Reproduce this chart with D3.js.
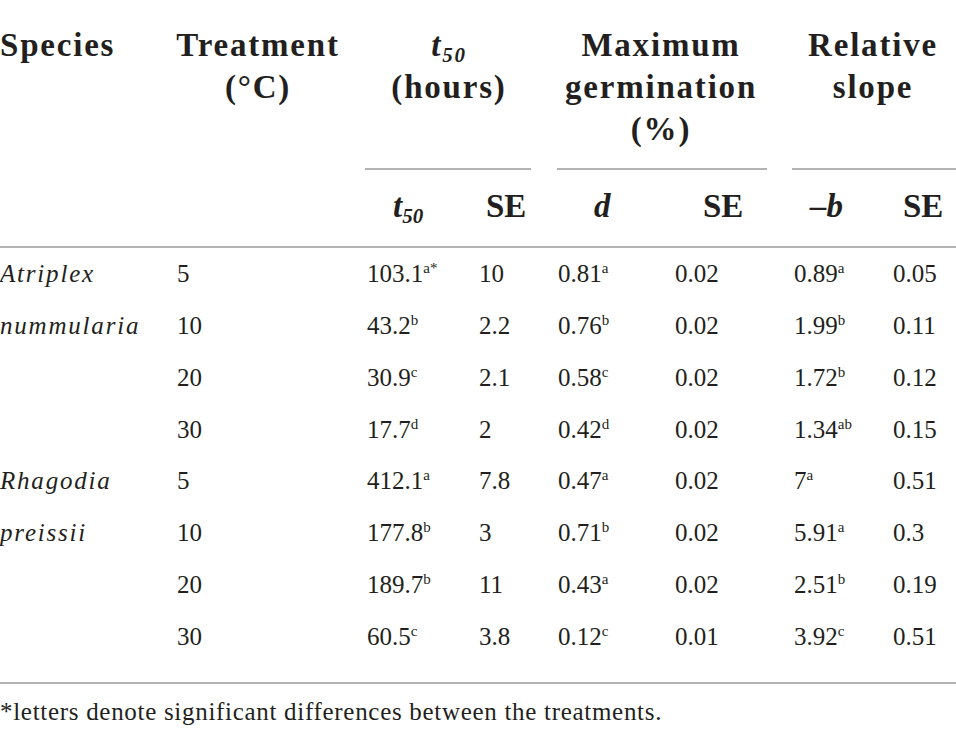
<!DOCTYPE html>
<html>
<head>
<meta charset="utf-8">
<script src="https://cdn.jsdelivr.net/npm/d3@7"></script>
<style>
  html, body { margin: 0; padding: 0; background: #fff; }
  svg { display: block; }
  text { font-family: "Liberation Serif", "Times New Roman", serif; fill: #231f20; }
  .hd { font-weight: bold; font-size: 33px; letter-spacing: 1.8px; }
  .sub { font-weight: bold; font-size: 33px; }
  .cell { font-size: 25px; }
  .sp { letter-spacing: 1.8px; }
  .sup { font-size: 15px; }
  .foot { font-size: 25px; letter-spacing: 0.7px; }
</style>
</head>
<body>
<svg id="chart" width="956" height="742"></svg>
<script>
// ---- data ----
const speciesNames = [["Atriplex", "nummularia"], ["Rhagodia", "preissii"]];
const treatments = [5, 10, 20, 30];
const t50 = [103.1, 43.2, 30.9, 17.7, 412.1, 177.8, 189.7, 60.5];
const t50Letters = ["a*", "b", "c", "d", "a", "b", "b", "c"];
const t50SE = [10, 2.2, 2.1, 2, 7.8, 3, 11, 3.8];
const dMax = [0.81, 0.76, 0.58, 0.42, 0.47, 0.71, 0.43, 0.12];
const dLetters = ["a", "b", "c", "d", "a", "b", "a", "c"];
const dSE = [0.02, 0.02, 0.02, 0.02, 0.02, 0.02, 0.02, 0.01];
const slopeB = [0.89, 1.99, 1.72, 1.34, 7, 5.91, 2.51, 3.92];
const bLetters = ["a", "b", "b", "ab", "a", "a", "b", "c"];
const bSE = [0.05, 0.11, 0.12, 0.15, 0.51, 0.3, 0.19, 0.51];
const footnote = "*letters denote significant differences between the treatments.";

// ---- layout ----
const W = 956;
const svg = d3.select("#chart");
const nRows = t50.length;
const y = d3.scalePoint().domain(d3.range(nRows)).range([282, 645]);
const colKeys = ["species", "treat", "t50", "t50SE", "d", "dSE", "b", "bSE"];
const x = d3.scaleOrdinal().domain(colKeys).range([0, 177, 367, 479, 558, 675, 794, 893]);
const lineColor = "#9a9a9a";

// ---- header ----
const hdr = svg.append("g");
function hline(txt, cx, by, anchor) {
  return hdr.append("text").attr("class", "hd").attr("x", cx).attr("y", by)
    .attr("text-anchor", anchor || "middle").text(txt);
}
hline("Species", 0, 56, "start");
hline("Treatment", 258, 56);
hline("(\u00B0C)", 258, 98);
const tt = hdr.append("text").attr("class", "hd").attr("x", 449).attr("y", 56)
  .attr("text-anchor", "middle").style("font-style", "italic");
tt.append("tspan").text("t");
tt.append("tspan").attr("dy", 6).style("font-size", "21px").text("50");
hline("(hours)", 449, 98);
hline("Maximum", 661, 56);
hline("germination", 661, 98);
hline("(%)", 661, 140);
hline("Relative", 873, 56);
hline("slope", 873, 98);

const groups = [[365, 531], [557, 767], [792, 956]];
hdr.selectAll("line.grp").data(groups).join("line").attr("class", "grp")
  .attr("x1", d => d[0]).attr("x2", d => d[1]).attr("y1", 169).attr("y2", 169)
  .attr("stroke", lineColor).attr("stroke-width", 1.5);

const subY = 217;
const st = hdr.append("text").attr("class", "sub").attr("x", 393).attr("y", subY)
  .style("font-style", "italic");
st.append("tspan").text("t");
st.append("tspan").attr("dy", 6).style("font-size", "21px").text("50");
hdr.append("text").attr("class", "sub").attr("x", 486).attr("y", subY).text("SE");
hdr.append("text").attr("class", "sub").attr("x", 594).attr("y", subY).style("font-style", "italic").text("d");
hdr.append("text").attr("class", "sub").attr("x", 703).attr("y", subY).text("SE");
hdr.append("text").attr("class", "sub").attr("x", 810).attr("y", subY).style("font-style", "italic").text("\u2013b");
hdr.append("text").attr("class", "sub").attr("x", 903).attr("y", subY).text("SE");

svg.append("line").attr("x1", 0).attr("x2", W).attr("y1", 247).attr("y2", 247)
  .attr("stroke", lineColor).attr("stroke-width", 1.5);
svg.append("line").attr("x1", 0).attr("x2", W).attr("y1", 683).attr("y2", 683)
  .attr("stroke", lineColor).attr("stroke-width", 1.5);

// ---- body ----
const rows = d3.range(nRows).map(i => ({
  i,
  species: speciesNames[Math.floor(i / treatments.length)][i % treatments.length] || "",
  treat: treatments[i % treatments.length],
  t50: t50[i], t50L: t50Letters[i], t50SE: t50SE[i],
  d: dMax[i], dL: dLetters[i], dSE: dSE[i],
  b: slopeB[i], bL: bLetters[i], bSE: bSE[i]
}));

const body = svg.append("g");
const rowG = body.selectAll("g.row").data(rows).join("g").attr("class", "row")
  .attr("transform", d => `translate(0,${y(d.i)})`);

rowG.append("text").attr("class", "cell sp").attr("x", x("species"))
  .style("font-style", "italic").text(d => d.species);
rowG.append("text").attr("class", "cell").attr("x", x("treat")).text(d => d.treat);

function valWithSup(sel, key, valKey, supKey) {
  const t = sel.append("text").attr("class", "cell").attr("x", x(key));
  t.append("tspan").text(d => String(d[valKey]));
  t.append("tspan").attr("class", "sup").attr("dy", -9).text(d => d[supKey]);
}
valWithSup(rowG, "t50", "t50", "t50L");
rowG.append("text").attr("class", "cell").attr("x", x("t50SE")).text(d => String(d.t50SE));
valWithSup(rowG, "d", "d", "dL");
rowG.append("text").attr("class", "cell").attr("x", x("dSE")).text(d => String(d.dSE));
valWithSup(rowG, "b", "b", "bL");
rowG.append("text").attr("class", "cell").attr("x", x("bSE")).text(d => String(d.bSE));

// ---- footnote ----
svg.append("text").attr("class", "foot").attr("x", 0).attr("y", 720).text(footnote);
</script>
</body>
</html>
